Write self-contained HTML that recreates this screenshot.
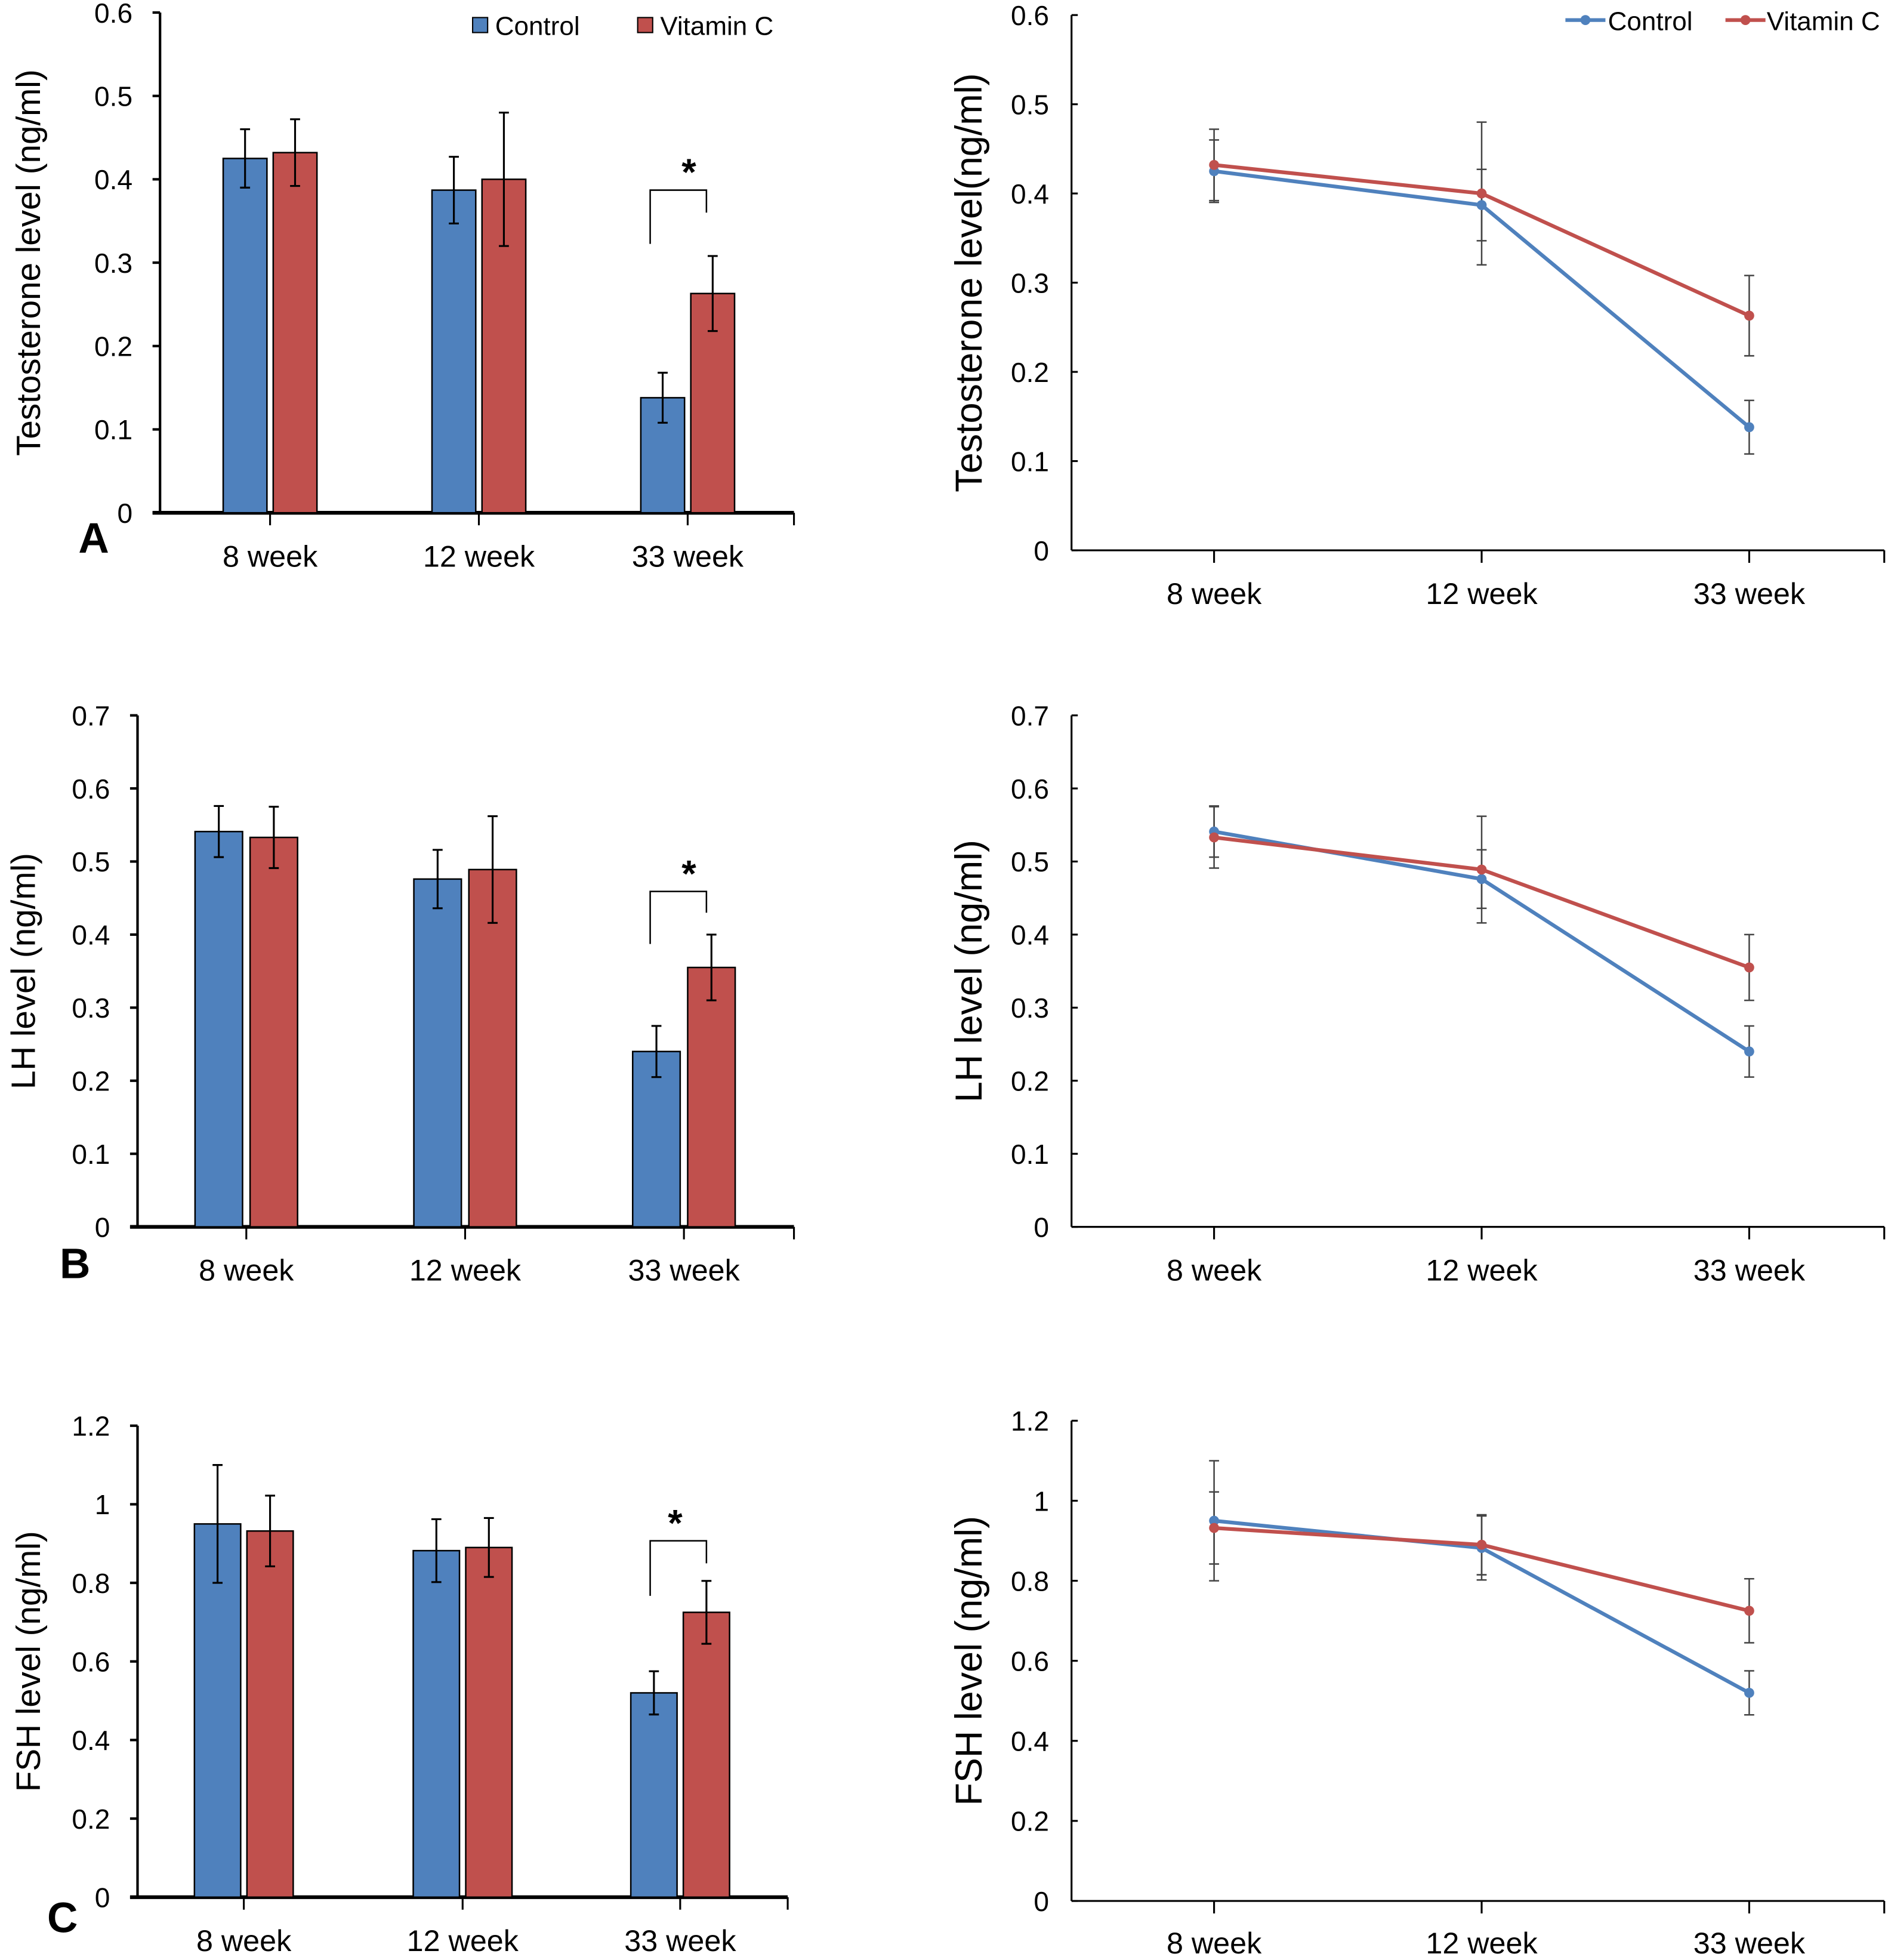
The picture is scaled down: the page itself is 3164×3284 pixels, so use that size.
<!DOCTYPE html>
<html><head><meta charset="utf-8"><style>
html,body{margin:0;padding:0;background:#fff}
svg{display:block}
text{font-family:"Liberation Sans",sans-serif;fill:#000}
</style></head><body>
<svg id="fig" width="3164" height="3284" viewBox="0 0 1510 1567.2" xmlns="http://www.w3.org/2000/svg"></svg>
<script>
const categories = ["8 week","12 week","33 week"];
const testoControl = [0.425,0.387,0.138];
const testoControlErr = [0.035,0.04,0.03];
const testoVitC = [0.432,0.400,0.263];
const testoVitCErr = [0.04,0.08,0.045];
const lhControl = [0.541,0.476,0.240];
const lhControlErr = [0.035,0.04,0.035];
const lhVitC = [0.533,0.489,0.355];
const lhVitCErr = [0.042,0.073,0.045];
const fshControl = [0.950,0.882,0.520];
const fshControlErr = [0.15,0.08,0.055];
const fshVitC = [0.932,0.890,0.725];
const fshVitCErr = [0.09,0.075,0.08];
const testoTicks = ["0","0.1","0.2","0.3","0.4","0.5","0.6"];
const lhTicks = ["0","0.1","0.2","0.3","0.4","0.5","0.6","0.7"];
const fshTicks = ["0","0.2","0.4","0.6","0.8","1","1.2"];

const NS="http://www.w3.org/2000/svg";
const svg=document.getElementById('fig');
const BLUE="#4f81bd", RED="#c0504d";
function mk(tag,attrs,parent){const e=document.createElementNS(NS,tag);for(const k in attrs)e.setAttribute(k,attrs[k]);(parent||svg).appendChild(e);return e;}
function txt(s,attrs,parent){const e=mk('text',attrs,parent);e.textContent=s;return e;}

function panel(cfg){
  const g=mk('g',{});
  
  
  const max=parseFloat(cfg.ticks[cfg.ticks.length-1]);
  const y=v=>cfg.y0-(v/max)*(cfg.y0-cfg.yTop);
  const xs=categories.map((c,i)=>cfg.cx[i]);
  const ya=mk('line',{x1:cfg.x0,y1:cfg.yTop,x2:cfg.x0,y2:cfg.y0,stroke:'#000','stroke-width':cfg.bar?2:1.5},g);
  
  
  cfg.ticks.forEach(t=>{
    const v=parseFloat(t), yy=y(v);
    if(cfg.bar) mk('line',{x1:cfg.x0-6,y1:yy,x2:cfg.x0,y2:yy,stroke:'#000','stroke-width':2},g);
    else mk('line',{x1:cfg.x0,y1:yy,x2:cfg.x0+5,y2:yy,stroke:'#000','stroke-width':1.5},g);
    const tl=txt(t,{x:cfg.x0-(cfg.bar?22:18),y:yy+8,'text-anchor':'end','font-size':22},g);
    
    
  });
  const xa=mk('line',{x1:cfg.x0-(cfg.bar?6:0),y1:cfg.y0,x2:cfg.x1,y2:cfg.y0,stroke:'#000','stroke-width':cfg.bar?3:1.5},g);
  
  
  xs.forEach(x=>mk('line',{x1:x,y1:cfg.y0,x2:x,y2:cfg.y0+10,stroke:'#000','stroke-width':1.5},g));
  mk('line',{x1:cfg.x1,y1:cfg.y0,x2:cfg.x1,y2:cfg.y0+10,stroke:'#000','stroke-width':1.5},g);
  categories.forEach((c,i)=>{
    const t=txt(c,{x:xs[i],y:cfg.labY,'text-anchor':'middle','font-size':24},g);
    
    
  });
  const yl=txt(cfg.ylabel,{x:0,y:0,'text-anchor':'middle','font-size':cfg.bar?27:30,transform:`translate(${cfg.ylx},${(cfg.yTop+cfg.y0)/2}) rotate(-90)`},g);
  
  
  const series=[[cfg.c,cfg.ce,BLUE,'control'],[cfg.v,cfg.ve,RED,'vitamin-c']];
  if(cfg.bar){
    series.forEach((s,si)=>{
      s[0].forEach((val,i)=>{
        const bx=xs[i]+(si===0?-cfg.off:cfg.off)-cfg.bw/2;
        const r=mk('rect',{x:bx,y:y(val),width:cfg.bw,height:cfg.y0-y(val),fill:s[2],stroke:'#000','stroke-width':1.2},g);
        
        
        const cx=bx+cfg.bw/2,e=s[1][i];
        const eb=mk('path',{d:`M${cx},${y(val+e)}V${y(val-e)}M${cx-4},${y(val+e)}H${cx+4}M${cx-4},${y(val-e)}H${cx+4}`,stroke:'#000','stroke-width':1.5,fill:'none'},g);
        
        
      });
    });
    const i=2, lx=xs[i]+cfg.brLx, rx=xs[i]+cfg.brRx;
    const top=y(cfg.brTopV);
    const br=mk('path',{d:`M${lx},${top+cfg.brL}V${top}H${rx}V${top+cfg.brR}`,stroke:'#000','stroke-width':1.2,fill:'none'},g);
    
    
    const st=txt('*',{x:cfg.starX,y:top-4,'text-anchor':'middle','font-size':30,'font-weight':'bold'},g);
    
    
    const L=txt(cfg.letter,{x:cfg.letterX,y:cfg.letterY,'text-anchor':'middle','font-size':34,'font-weight':'bold'},g);
    
    
  } else {
    series.forEach(s=>{
      s[0].forEach((val,i)=>{
        const e=s[1][i],cx=xs[i];
        const eb=mk('path',{d:`M${cx},${y(val+e)}V${y(val-e)}M${cx-4},${y(val+e)}H${cx+4}M${cx-4},${y(val-e)}H${cx+4}`,stroke:'#444','stroke-width':1.2,fill:'none'},g);
        
        
      });
    });
    series.forEach(s=>{
      const pl=mk('polyline',{points:s[0].map((v,i)=>xs[i]+','+y(v)).join(' '),stroke:s[2],'stroke-width':3,fill:'none'},g);
      
      
      s[0].forEach((v,i)=>{
        const c=mk('circle',{cx:xs[i],cy:y(v),r:4,fill:s[2]},g);
        
        
      });
    });
  }
}
const lineX=[971,1185,1399];
panel({name:'panel-a-bar',bar:true,x0:128,x1:635,yTop:10,y0:410,cx:[216,383,550],off:20,bw:35,ticks:testoTicks,c:testoControl,ce:testoControlErr,v:testoVitC,ve:testoVitCErr,labY:453,ylabel:'Testosterone level (ng/ml)',ylx:32,letter:'A',letterX:75,letterY:442,brTopV:0.387,brLx:-30,brRx:15,brL:43,brR:18,starX:551});
panel({name:'panel-a-line',bar:false,x0:857,x1:1507,yTop:12,y0:440,cx:lineX,ticks:testoTicks,c:testoControl,ce:testoControlErr,v:testoVitC,ve:testoVitCErr,labY:483,ylabel:'Testosterone level(ng/ml)',ylx:785});
panel({name:'panel-b-bar',bar:true,x0:110,x1:635,yTop:572,y0:981,cx:[197,372,547],off:22,bw:38,ticks:lhTicks,c:lhControl,ce:lhControlErr,v:lhVitC,ve:lhVitCErr,labY:1024,ylabel:'LH level (ng/ml)',ylx:28,letter:'B',letterX:60,letterY:1022,brTopV:0.459,brLx:-27,brRx:18,brL:42,brR:17,starX:551});
panel({name:'panel-b-line',bar:false,x0:857,x1:1507,yTop:572,y0:981,cx:lineX,ticks:lhTicks,c:lhControl,ce:lhControlErr,v:lhVitC,ve:lhVitCErr,labY:1024,ylabel:'LH level (ng/ml)',ylx:785});
panel({name:'panel-c-bar',bar:true,x0:110,x1:630,yTop:1140,y0:1517,cx:[195,370,544],off:21,bw:37,ticks:fshTicks,c:fshControl,ce:fshControlErr,v:fshVitC,ve:fshVitCErr,labY:1560,ylabel:'FSH level (ng/ml)',ylx:32,letter:'C',letterX:50,letterY:1545,brTopV:0.907,brLx:-24,brRx:21,brL:44,brR:18,starX:540});
panel({name:'panel-c-line',bar:false,x0:857,x1:1507,yTop:1136,y0:1520,cx:lineX,ticks:fshTicks,c:fshControl,ce:fshControlErr,v:fshVitC,ve:fshVitCErr,labY:1562,ylabel:'FSH level (ng/ml)',ylx:785});

const lg1=mk('g',{});


mk('rect',{x:378,y:14,width:12,height:12,fill:BLUE,stroke:'#000','stroke-width':1},lg1);
txt('Control',{x:396,y:28,'font-size':21},lg1);
mk('rect',{x:510,y:14,width:12,height:12,fill:RED,stroke:'#000','stroke-width':1},lg1);
txt('Vitamin C',{x:528,y:28,'font-size':21},lg1);
const lg2=mk('g',{});


mk('line',{x1:1252,y1:16,x2:1284,y2:16,stroke:BLUE,'stroke-width':3},lg2);
mk('circle',{cx:1268,cy:16,r:4,fill:BLUE},lg2);
txt('Control',{x:1286,y:24,'font-size':21},lg2);
mk('line',{x1:1380,y1:16,x2:1412,y2:16,stroke:RED,'stroke-width':3},lg2);
mk('circle',{cx:1396,cy:16,r:4,fill:RED},lg2);
txt('Vitamin C',{x:1413,y:24,'font-size':21},lg2);
</script>
</body></html>
